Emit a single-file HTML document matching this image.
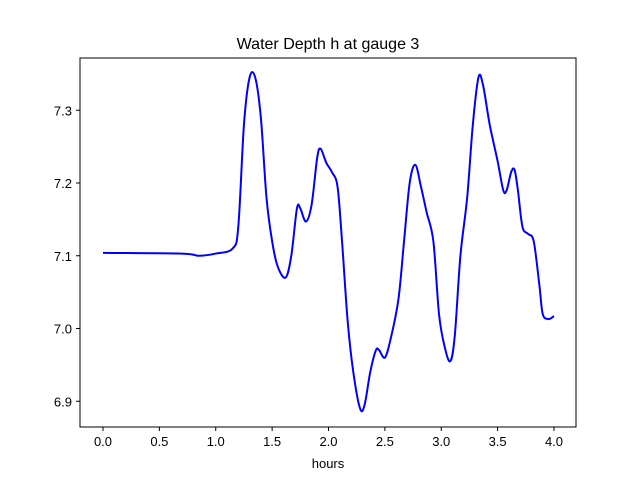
<!DOCTYPE html>
<html><head><meta charset="utf-8"><style>
body{margin:0;background:#fff;}
svg{display:block;font-family:"Liberation Sans","DejaVu Sans",sans-serif;}
</style></head><body>
<svg id="chart" width="640" height="480">
<rect width="640" height="480" fill="#fff"/>
<text x="328" y="49" font-size="16" text-anchor="middle">Water Depth h at gauge 3</text>
<g id="axes"></g>
<path id="line" fill="none" stroke="#0000ff" stroke-width="2" stroke-linejoin="round"/>
<rect x="80" y="58" width="496" height="369" fill="none" stroke="#000" stroke-width="1"/>
<text x="328" y="468" font-size="13" text-anchor="middle">hours</text>
</svg>
<script>
const hours=[0.0,0.7,0.85,1.0,1.15,1.2,1.25,1.3,1.35,1.4,1.45,1.5,1.55,1.62,1.67,1.72,1.75,1.8,1.85,1.9,1.93,1.98,2.03,2.08,2.12,2.17,2.22,2.28,2.32,2.37,2.42,2.45,2.5,2.55,2.62,2.67,2.72,2.77,2.82,2.87,2.93,2.98,3.03,3.08,3.12,3.17,3.23,3.28,3.33,3.37,3.43,3.5,3.55,3.58,3.62,3.65,3.68,3.72,3.77,3.82,3.87,3.9,3.95,4.0];
const depth=[7.104,7.103,7.100,7.103,7.110,7.14,7.28,7.345,7.345,7.29,7.18,7.12,7.085,7.07,7.10,7.165,7.165,7.147,7.17,7.235,7.247,7.228,7.215,7.195,7.12,7.01,6.94,6.89,6.895,6.94,6.97,6.97,6.96,6.985,7.04,7.12,7.20,7.225,7.195,7.16,7.12,7.02,6.975,6.955,6.99,7.10,7.18,7.28,7.345,7.335,7.28,7.23,7.19,7.19,7.215,7.218,7.19,7.14,7.13,7.12,7.06,7.02,7.013,7.017];
const xTicks=[0.0,0.5,1.0,1.5,2.0,2.5,3.0,3.5,4.0];
const yTicks=[6.9,7.0,7.1,7.2,7.3];
const xs=v=>103+(v-0)*112.75;
const ys=v=>328.5-(v-7.0)*727.5;
const NS="http://www.w3.org/2000/svg";
const axes=document.getElementById('axes');
xTicks.forEach(t=>{
  const l=document.createElementNS(NS,'line');
  l.setAttribute('x1',xs(t));l.setAttribute('x2',xs(t));l.setAttribute('y1',427);l.setAttribute('y2',431);l.setAttribute('stroke','#000');
  
  
  axes.appendChild(l);
  const tx=document.createElementNS(NS,'text');
  tx.setAttribute('x',xs(t));tx.setAttribute('y',446);tx.setAttribute('font-size','13');tx.setAttribute('text-anchor','middle');
  tx.textContent=t.toFixed(1);
  
  
  axes.appendChild(tx);
});
yTicks.forEach(t=>{
  const l=document.createElementNS(NS,'line');
  l.setAttribute('x1',76);l.setAttribute('x2',80);l.setAttribute('y1',ys(t));l.setAttribute('y2',ys(t));l.setAttribute('stroke','#000');
  
  
  axes.appendChild(l);
  const tx=document.createElementNS(NS,'text');
  tx.setAttribute('x',72);tx.setAttribute('y',ys(t)+5);tx.setAttribute('font-size','13');tx.setAttribute('text-anchor','end');
  tx.textContent=t.toFixed(1);
  
  
  axes.appendChild(tx);
});
// smooth path via Catmull-Rom
const pts=hours.map((h,i)=>[xs(h),ys(depth[i])]);
let d='M'+pts[0][0]+','+pts[0][1];
for(let i=0;i<pts.length-1;i++){
  const p0=pts[Math.max(0,i-1)],p1=pts[i],p2=pts[i+1],p3=pts[Math.min(pts.length-1,i+2)];
  const c1=[p1[0]+(p2[0]-p0[0])/6,p1[1]+(p2[1]-p0[1])/6];
  const c2=[p2[0]-(p3[0]-p1[0])/6,p2[1]-(p3[1]-p1[1])/6];
  d+=' C'+c1[0]+','+c1[1]+' '+c2[0]+','+c2[1]+' '+p2[0]+','+p2[1];
}
document.getElementById('line').setAttribute('d',d);
</script>
</body></html>
